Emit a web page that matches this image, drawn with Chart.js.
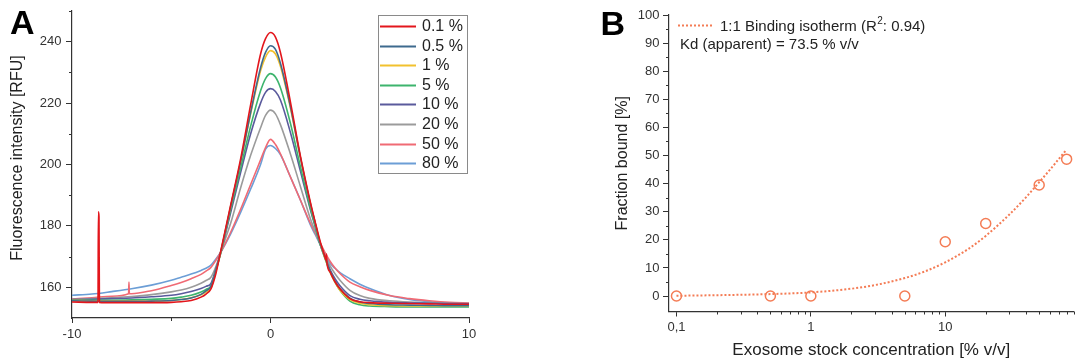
<!DOCTYPE html>
<html><head><meta charset="utf-8">
<script src="https://cdn.jsdelivr.net/npm/chart.js@4"></script>
<style>
html,body{margin:0;padding:0;background:#fff;}
#wrap{position:relative;width:1080px;height:359px;overflow:hidden;background:#fff;}
canvas{position:absolute;top:0;}
#cA{left:0;} #cB{left:540px;}
</style></head><body>
<div id="wrap"><canvas id="cA" width="540" height="359"></canvas><canvas id="cB" width="540" height="359"></canvas></div>
<script>
// ---------- Panel A data ----------
const xA = [-10,-9,-8,-7,-6,-5,-4.5,-4,-3.5,-3.25,-3,-2.75,-2.5,-2.25,-2,-1.5,-1,-0.5,-0.25,0,0.25,0.5,1,1.5,2,2.25,2.5,2.75,3,3.25,3.5,4,4.5,5,6,7,8,9,10];
const labelsA = ['0.1 %','0.5 %','1 %','5 %','10 %','20 %','50 %','80 %'];
const y01 = [155.2,155.1,155.0,155.0,155.0,155.1,155.3,155.7,156.8,157.8,159.5,164.5,172.0,179.5,187.0,202.0,219.5,236.0,241.0,243.0,241.5,236.5,220.5,203.0,188.0,181.3,175.0,169.8,165.0,161.8,159.5,156.3,155.3,155.0,154.8,154.7,154.6,154.5,154.5];
const y05 = [155.6,155.5,155.4,155.4,155.5,155.7,156.0,156.5,157.7,158.8,160.3,165.5,171.8,179.0,186.5,201.0,217.0,231.5,236.5,238.7,237.5,233.0,219.0,202.5,187.5,181.0,174.5,169.7,165.3,162.0,159.5,156.5,155.2,154.7,154.3,154.2,154.1,154.0,154.0];
const y1 = [155.7,155.6,155.5,155.5,155.5,155.7,156.0,156.6,157.6,158.4,159.8,165.2,171.6,179.0,186.5,201.0,216.5,230.5,235.0,237.1,236.0,232.0,218.5,202.5,187.5,181.0,174.5,169.5,165.0,161.7,159.0,156.0,154.8,154.3,154.0,153.9,153.9,153.9,153.9];
const y5 = [155.8,155.8,155.8,155.9,156.1,156.4,156.8,157.4,158.5,159.3,160.5,165.5,171.3,178.5,185.5,199.0,212.5,224.0,228.0,229.6,228.5,225.0,213.5,199.5,186.0,180.0,174.0,169.3,165.0,161.7,159.0,155.5,154.3,153.9,153.7,153.6,153.6,153.6,153.6];
const y10 = [156.0,156.1,156.3,156.5,156.9,157.4,157.9,158.6,159.6,160.3,161.3,166.0,171.3,178.0,184.5,197.5,210.0,220.0,223.5,224.7,223.8,221.0,210.5,198.0,185.5,179.8,174.0,169.6,165.8,162.8,160.5,157.3,156.1,155.6,155.1,154.9,154.8,154.7,154.6];
const y20 = [156.0,156.3,156.6,157.0,157.6,158.5,159.1,160.0,161.3,162.2,163.3,166.8,171.5,176.2,181.0,192.5,203.0,212.0,216.0,217.7,216.5,213.0,203.5,193.0,182.5,178.2,174.0,170.2,167.0,164.4,162.3,159.0,157.3,156.4,155.6,155.2,155.0,154.8,154.7];
const y50 = [156.2,156.6,157.1,157.9,158.9,160.6,161.6,162.8,164.2,165.3,166.5,168.8,171.5,174.6,178.0,185.5,193.5,201.5,205.5,208.2,206.5,203.5,196.0,188.5,181.0,177.7,174.5,171.3,168.5,166.3,164.5,161.7,160.2,159.0,157.3,156.3,155.6,155.1,154.9];
const y80 = [157.4,157.8,158.6,159.5,160.7,162.3,163.3,164.3,165.5,166.2,167.2,169.2,171.5,174.4,177.5,184.5,192.0,200.0,205.0,206.2,205.2,203.2,196.0,188.5,180.5,177.2,174.0,170.8,167.8,166.2,164.8,162.8,161.0,159.6,157.3,156.0,155.3,154.8,154.8];
// spikes seen in the 0.1 % and 50 % traces
const spike01X = [-8.69,-8.67,-8.64,-8.62,2.80,2.82,2.84];
const spike01Y = [155.1,184.6,183.0,155.1,168.8,170.8,168.2];
const spike50X = [-7.15,-7.13,-7.11];
const spike50Y = [157.9,161.7,157.9];
const yTicksA = [160,180,200,220,240];
const yMinorA = [170,190,210,230,250];
const xTicksA = [-10,0,10];
const xMinorA = [-5,5];

// ---------- Panel B data ----------
const concB = [0.1,0.5,1,5,10,20,50,80];
const boundB = [0,0,0,0,19.3,25.8,39.5,48.7];
const fitX = [0.1,0.2,0.5,1,2,3,5,7,10,15,20,30,40,50,60,70,80];
const fitY = [0.1,0.3,0.7,1.3,2.6,3.9,6.4,8.7,12.0,16.9,21.4,29.0,35.2,40.5,44.9,48.8,52.1];
const yTicksB = [0,10,20,30,40,50,60,70,80,90,100];
const yMinorB = [5,15,25,35,45,55,65,75,85,95];
const xTicksB = [0.1,1,10];
const xLabelsB = ['0,1','1','10'];
const xMinorB = [0.2,0.3,0.4,0.5,0.6,0.7,0.8,0.9,2,3,4,5,6,7,8,9,20,30,40,50,60,70,80,90];

const FONT = "'Liberation Sans', Arial, sans-serif";
Chart.defaults.font.family = FONT;
Chart.defaults.color = '#333';
const AXIS = '#333';
const ORANGE = '#F47C55';
const coloursA = ['#E3161C','#3E6A8E','#F2C12E','#3DB46D','#5A5A9C','#9B9B9B','#F06A74','#6C9ED6'];

function pts(xs, ys, ex, ey) {
  const p = xs.map((x, i) => ({x: x, y: ys[i]}));
  if (ex) ex.forEach((x, i) => p.push({x: x, y: ey[i]}));
  p.sort((a, b) => a.x - b.x);
  return p;
}
function minorPlugin(spec) {
  return {
    id: 'minor', afterDraw(c) {
      const ctx = c.ctx; ctx.save(); ctx.strokeStyle = AXIS; ctx.lineWidth = 1;
      for (const id in spec) {
        const s = c.scales[id]; const {vals, len} = spec[id];
        vals.forEach(v => {
          const p = Math.round(s.getPixelForValue(v)) + 0.5;
          ctx.beginPath();
          if (s.isHorizontal()) { ctx.moveTo(p, s.top); ctx.lineTo(p, s.top + len); }
          else { ctx.moveTo(s.right, p); ctx.lineTo(s.right - len, p); }
          ctx.stroke();
        });
      }
      ctx.restore();
    }
  };
}
function fixTicks(list) { return s => { s.ticks = list.map(v => ({value: v})); }; }

// ---------- Chart A ----------
const seriesA = [y01,y05,y1,y5,y10,y20,y50,y80];
const dsA = seriesA.map((ys, i) => ({
  label: labelsA[i],
  data: i === 0 ? pts(xA, ys, spike01X, spike01Y) : (i === 6 ? pts(xA, ys, spike50X, spike50Y) : pts(xA, ys)),
  borderColor: coloursA[i], backgroundColor: coloursA[i],
  borderWidth: 1.6, pointRadius: 0, showLine: true, fill: false,
  cubicInterpolationMode: 'monotone'
}));
const decorA = {
  id: 'decorA', afterDraw(c) {
    const ctx = c.ctx; ctx.save();
    ctx.strokeStyle = '#8a8a8a'; ctx.lineWidth = 1;
    ctx.strokeRect(378.5, 15.5, 89, 158);
    ctx.font = '16px ' + FONT; ctx.textBaseline = 'middle'; ctx.fillStyle = '#222';
    c.data.datasets.forEach((d, i) => {
      const y = Math.round(26 + i * 19.6) + 0.5;
      ctx.strokeStyle = d.borderColor; ctx.lineWidth = 2;
      ctx.beginPath(); ctx.moveTo(380, y); ctx.lineTo(416, y); ctx.stroke();
      ctx.fillText(d.label, 422, y + 0.5);
    });
    ctx.fillStyle = '#000'; ctx.font = 'bold 34px ' + FONT; ctx.textBaseline = 'alphabetic';
    ctx.fillText('A', 10, 34);
    ctx.translate(21.5, 158); ctx.rotate(-Math.PI / 2);
    ctx.font = '16px ' + FONT; ctx.textAlign = 'center'; ctx.fillStyle = '#222';
    ctx.fillText('Fluorescence intensity [RFU]', 0, 0);
    ctx.restore();
  }
};
new Chart(document.getElementById('cA'), {
  type: 'scatter',
  data: {datasets: dsA},
  options: {
    responsive: false, animation: false, devicePixelRatio: 1,
    layout: {padding: {left: 0, right: 71, top: 11, bottom: 0}},
    plugins: {legend: {display: false}, tooltip: {enabled: false}},
    scales: {
      x: {
        type: 'linear', min: -10, max: 10,
        afterBuildTicks: fixTicks(xTicksA),
        afterFit: s => { s.height = 41; s.paddingLeft = 0; s.paddingRight = 0; },
        ticks: {autoSkip: false, maxRotation: 0, padding: 4, font: {size: 13}, color: '#333', callback: v => String(v)},
        grid: {drawOnChartArea: false, drawTicks: true, tickLength: 5, tickColor: AXIS},
        border: {display: true, color: AXIS, width: 1.2}
      },
      y: {
        min: 150, max: 250,
        afterBuildTicks: fixTicks(yTicksA),
        afterFit: s => { s.width = 72; s.paddingTop = 0; s.paddingBottom = 0; },
        ticks: {autoSkip: false, padding: 4.5, font: {size: 13}, color: '#333'},
        grid: {drawOnChartArea: false, drawTicks: true, tickLength: 6, tickColor: AXIS},
        border: {display: true, color: AXIS, width: 1.2}
      }
    }
  },
  plugins: [minorPlugin({x: {vals: xMinorA, len: 3}, y: {vals: yMinorA, len: 3}}), decorA]
});

// ---------- Chart B ----------
const decorB = {
  id: 'decorB', afterDraw(c) {
    const ctx = c.ctx; ctx.save();
    ctx.strokeStyle = ORANGE; ctx.lineWidth = 2; ctx.setLineDash([2, 2]);
    ctx.beginPath(); ctx.moveTo(138, 25.5); ctx.lineTo(173, 25.5); ctx.stroke();
    ctx.setLineDash([]);
    ctx.fillStyle = '#222'; ctx.textBaseline = 'alphabetic';
    ctx.font = '15px ' + FONT;
    let x = 180; const yb = 30.5;
    const t1 = '1:1 Binding isotherm (R';
    ctx.fillText(t1, x, yb); x += ctx.measureText(t1).width;
    ctx.font = '10px ' + FONT; ctx.fillText('2', x + 0.5, yb - 6.5); x += ctx.measureText('2').width + 0.5;
    ctx.font = '15px ' + FONT; ctx.fillText(': 0.94)', x, yb);
    ctx.fillText('Kd (apparent) = 73.5 % v/v', 140, 48.5);
    ctx.fillStyle = '#000'; ctx.font = 'bold 34px ' + FONT;
    ctx.fillText('B', 60.5, 35);
    ctx.restore();
  }
};
new Chart(document.getElementById('cB'), {
  type: 'scatter',
  data: {datasets: [
    {label: 'data', data: pts(concB, boundB), showLine: false, pointStyle: 'circle',
     pointRadius: 5, pointBorderWidth: 1.5, borderColor: ORANGE, backgroundColor: 'rgba(0,0,0,0)'},
    {label: '1:1 Binding isotherm', data: pts(fitX, fitY), showLine: true, pointRadius: 0,
     borderColor: ORANGE, borderWidth: 2, borderDash: [2, 2], fill: false, cubicInterpolationMode: 'monotone'}
  ]},
  options: {
    responsive: false, animation: false, devicePixelRatio: 1,
    layout: {padding: {left: 0, right: 5, top: 15, bottom: 0}},
    plugins: {legend: {display: false}, tooltip: {enabled: false}},
    scales: {
      x: {
        type: 'logarithmic', min: 0.088, max: 90,
        afterBuildTicks: fixTicks(xTicksB),
        afterFit: s => { s.height = 47.5; s.paddingLeft = 0; s.paddingRight = 0; },
        ticks: {autoSkip: false, maxRotation: 0, padding: 3, font: {size: 13}, color: '#333', callback: (v, i) => xLabelsB[i]},
        grid: {drawOnChartArea: false, drawTicks: true, tickLength: 5, tickColor: AXIS},
        border: {display: true, color: AXIS, width: 1.2},
        title: {display: true, text: 'Exosome stock concentration [% v/v]', color: '#222', font: {size: 17, lineHeight: 1}, padding: {top: 0, bottom: 0}}
      },
      y: {
        min: -5.5, max: 100,
        afterBuildTicks: fixTicks(yTicksB),
        afterFit: s => { s.width = 129; s.paddingTop = 0; s.paddingBottom = 0; },
        ticks: {autoSkip: false, padding: 3.5, font: {size: 13}, color: '#333'},
        grid: {drawOnChartArea: false, drawTicks: true, tickLength: 6, tickColor: AXIS},
        border: {display: true, color: AXIS, width: 1.2},
        title: {display: true, text: 'Fraction bound [%]', color: '#222', font: {size: 16, lineHeight: 1}, padding: {top: 74.5, bottom: 0}}
      }
    }
  },
  plugins: [minorPlugin({x: {vals: xMinorB, len: 3}, y: {vals: yMinorB, len: 3}}), decorB]
});
</script>
</body></html>
